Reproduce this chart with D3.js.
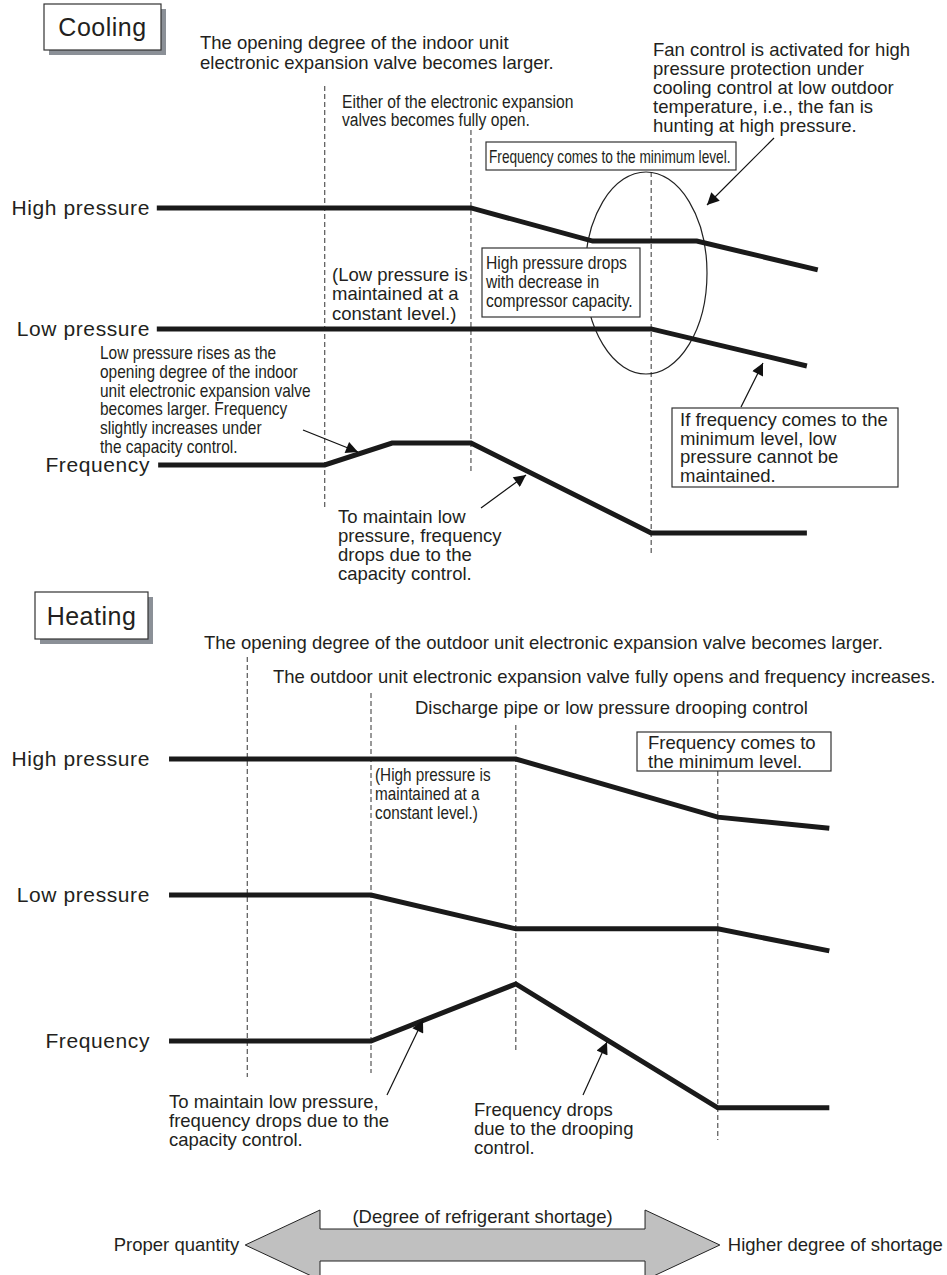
<!DOCTYPE html>
<html>
<head>
<meta charset="utf-8">
<script src="https://cdn.jsdelivr.net/npm/d3@7"></script>
<style>
body { margin: 0; background: #fff; }
svg text { font-family: "Liberation Sans", Arial, Helvetica, sans-serif; fill: #231f20; }
</style>
</head>
<body>
<svg id="chart" width="947" height="1275"></svg>
<script>
// x = degree of refrigerant shortage (0 proper .. 100 high), y = relative level
var seriesNames = ["High pressure", "Low pressure", "Frequency"];

var coolStages = [25.7, 47.2, 73.7];
var coolHigh = [[1.0, 9.78], [47.2, 9.78], [65.1, 8.86], [80.4, 8.86], [98.2, 8.06]];
var coolLow  = [[1.0, 6.42], [73.7, 6.42], [96.6, 5.39]];
var coolFreq = [[1.2, 2.64], [25.7, 2.64], [35.6, 3.25], [47.2, 3.25], [73.7, 0.75], [96.6, 0.75]];

var heatStages = [14.3, 32.5, 53.8, 83.5];
var heatHigh = [[2.8, 9.5], [53.8, 9.5], [83.5, 7.97], [99.9, 7.68]];
var heatLow  = [[2.8, 5.92], [32.5, 5.92], [53.8, 5.03], [83.5, 5.03], [99.9, 4.45]];
var heatFreq = [[2.8, 2.08], [32.5, 2.08], [53.8, 3.58], [83.5, 0.32], [99.9, 0.32]];

var svg = d3.select("#chart");

var x = d3.scaleLinear().domain([0, 100]).range([150, 830]);
var yCool = d3.scaleLinear().domain([0, 10]).range([560, 200]);
var yHeat = d3.scaleLinear().domain([0, 10]).range([1120, 740]);

svg.append("defs").append("marker")
    .attr("id", "head")
    .attr("viewBox", "0 0 10 10")
    .attr("refX", 10)
    .attr("refY", 5)
    .attr("markerUnits", "userSpaceOnUse")
    .attr("markerWidth", 15)
    .attr("markerHeight", 12)
    .attr("orient", "auto")
    .append("path")
    .attr("d", "M0,0L10,5L0,10z")
    .attr("fill", "#111");

// multi line text; sx squeezes the narrow captions
function block(x0, y0, lines, size, lh, sx, anchor) {
    var t = svg.append("text")
        .attr("transform", "translate(" + x0 + "," + y0 + ") scale(" + (sx || 1) + ",1)")
        .attr("text-anchor", anchor || "start")
        .style("font-size", size + "px");
    lines.forEach(function (s, i) {
        t.append("tspan").attr("x", 0).attr("y", i * lh).text(s);
    });
    return t;
}

function box(x0, y0, w, h) {
    svg.append("rect")
        .attr("x", x0).attr("y", y0)
        .attr("width", w).attr("height", h)
        .attr("fill", "#fff")
        .attr("stroke", "#333")
        .attr("stroke-width", 1.2);
}

function titleBox(x0, y0, w, h, label) {
    svg.append("rect")
        .attr("x", x0 + 5).attr("y", y0 + 5)
        .attr("width", w).attr("height", h)
        .attr("fill", "#8b9097");
    box(x0, y0, w, h);
    svg.append("text")
        .attr("x", x0 + w / 2)
        .attr("y", y0 + h / 2 + 9)
        .attr("text-anchor", "middle")
        .style("font-size", "25px")
        .style("letter-spacing", "0.5px")
        .text(label);
}

function arrow(x1, y1, x2, y2) {
    svg.append("line")
        .attr("x1", x1).attr("y1", y1)
        .attr("x2", x2).attr("y2", y2)
        .attr("stroke", "#111")
        .attr("stroke-width", 1.2)
        .attr("marker-end", "url(#head)");
}

function dashed(stages, y, ext) {
    svg.selectAll(null)
        .data(stages)
        .enter()
        .append("line")
        .attr("x1", function (d) { return x(d); })
        .attr("x2", function (d) { return x(d); })
        .attr("y1", function (d, i) { return ext[i][0]; })
        .attr("y2", function (d, i) { return ext[i][1]; })
        .attr("stroke", "#333")
        .attr("stroke-width", 1)
        .attr("stroke-dasharray", "5,3");
}

function curves(list, y) {
    var line = d3.line()
        .x(function (d) { return x(d[0]); })
        .y(function (d) { return y(d[1]); });

    svg.selectAll(null)
        .data(list)
        .enter()
        .append("path")
        .attr("d", line)
        .attr("fill", "none")
        .attr("stroke", "#1a1a1a")
        .attr("stroke-width", 5)
        .attr("stroke-linejoin", "miter");

    svg.selectAll(null)
        .data(list)
        .enter()
        .append("text")
        .attr("x", 150)
        .attr("y", function (d) { return y(d[0][1]) + 7; })
        .attr("text-anchor", "end")
        .style("font-size", "21px")
        .style("letter-spacing", "0.6px")
        .text(function (d, i) { return seriesNames[i]; });
}

/* COOLING */

titleBox(44, 4, 117, 46, "Cooling");

block(200, 49, ["The opening degree of the indoor unit",
    "electronic expansion valve becomes larger."], 18.5, 19.5);
block(342, 108, ["Either of the electronic expansion",
    "valves becomes fully open."], 18, 18, 0.87);
block(653, 56, ["Fan control is activated for high",
    "pressure protection under",
    "cooling control at low outdoor",
    "temperature, i.e., the fan is",
    "hunting at high pressure."], 18.5, 18.9);

dashed(coolStages, yCool, [[86, 508], [130, 473], [172, 555]]);

svg.append("ellipse")
    .attr("cx", 646).attr("cy", 273)
    .attr("rx", 61).attr("ry", 101)
    .attr("fill", "none")
    .attr("stroke", "#222")
    .attr("stroke-width", 1.2);

box(486, 142, 250, 28);
block(489, 163, ["Frequency comes to the minimum level."], 18, 18, 0.76);

arrow(774, 138, 707, 205);

curves([coolHigh, coolLow, coolFreq], yCool);

box(482, 248, 158, 69);
block(486, 269, ["High pressure drops", "with decrease in",
    "compressor capacity."], 18, 19, 0.87);

block(332, 281, ["(Low pressure is", "maintained at a", "constant level.)"], 18.5, 19.3);

block(100, 359, ["Low pressure rises as the",
    "opening degree of the indoor",
    "unit electronic expansion valve",
    "becomes larger. Frequency",
    "slightly increases under",
    "the capacity control."], 18, 18.8, 0.86);
arrow(303, 430, 358, 452);

block(338, 523, ["To maintain low", "pressure, frequency",
    "drops due to the", "capacity control."], 18.5, 19);
arrow(481, 508, 526, 475);

box(672, 408, 226, 79);
block(680, 426, ["If frequency comes to the", "minimum level, low",
    "pressure cannot be", "maintained."], 18.5, 18.7);
arrow(741, 407, 763, 363);

/* HEATING */

titleBox(35, 592, 113, 47, "Heating");

block(204, 649, ["The opening degree of the outdoor unit electronic expansion valve becomes larger."], 18.5, 19);
block(273, 683, ["The outdoor unit electronic expansion valve fully opens and frequency increases."], 18.5, 19);
block(415, 714, ["Discharge pipe or low pressure drooping control"], 18.5, 19);

dashed(heatStages, yHeat, [[657, 1077], [693, 1073], [725, 1051], [771, 1140]]);

curves([heatHigh, heatLow, heatFreq], yHeat);

block(375, 781, ["(High pressure is", "maintained at a", "constant level.)"], 18, 19, 0.85);

box(637, 732, 194, 39);
block(648, 749, ["Frequency comes to", "the minimum level."], 18.5, 18.5);

block(169, 1108, ["To maintain low pressure,", "frequency drops due to the",
    "capacity control."], 18.5, 19);
arrow(387, 1095, 423, 1020);

block(474, 1116, ["Frequency drops", "due to the drooping", "control."], 18.5, 19);
arrow(583, 1095, 607, 1042);

/* shortage axis arrow */

var tip = [14, 83.8], base = [25, 72.8];
var aMid = 1245, aBody = 16, aHead = 35;
var pts = [
    [x(tip[0]), aMid],
    [x(base[0]), aMid - aHead], [x(base[0]), aMid - aBody],
    [x(base[1]), aMid - aBody], [x(base[1]), aMid - aHead],
    [x(tip[1]), aMid],
    [x(base[1]), aMid + aHead], [x(base[1]), aMid + aBody],
    [x(base[0]), aMid + aBody], [x(base[0]), aMid + aHead]
];
svg.append("polygon")
    .attr("points", pts.map(function (p) { return p.join(","); }).join(" "))
    .attr("fill", "#c0c0c0")
    .attr("stroke", "#222")
    .attr("stroke-width", 1);

block((x(base[0]) + x(base[1])) / 2, 1223, ["(Degree of refrigerant shortage)"], 18.5, 19, 1, "middle");
block(x(tip[0]) - 6, 1251, ["Proper quantity"], 18.5, 19, 1, "end");
block(x(tip[1]) + 8, 1251, ["Higher degree of shortage"], 18.5, 19);
</script>
</body>
</html>
